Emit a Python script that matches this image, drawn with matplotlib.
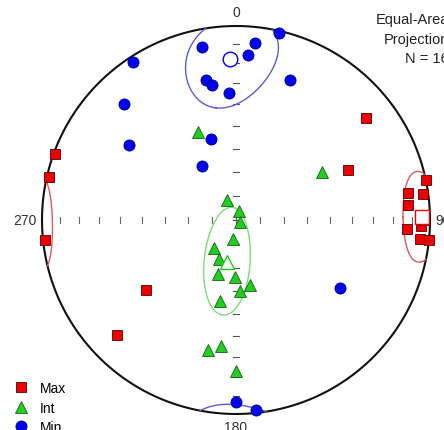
import numpy as np
import matplotlib
matplotlib.use('Agg')
import matplotlib.pyplot as plt
from matplotlib.lines import Line2D

plt.rcParams['font.family'] = ['Liberation Sans', 'DejaVu Sans']

# principal axes as trend / plunge in degrees (lower hemisphere)
max_trend = [290, 283, 264, 232, 226, 52, 66, 78, 81, 82, 85, 93, 92, 96, 96, 90]
max_plunge = [1, 1, 1, 41, 16, 16, 37, 0, 11, 3, 12, 13, 5, 5, 0, 4]

int_trend = [337, 61, 336, 17, 117, 189, 218, 204, 198, 181, 168, 177, 191, 192, 187, 180]
int_plunge = [49, 48, 81, 86, 88, 82, 75, 72, 66, 66, 62, 60, 55, 32, 35, 23]

min_trend = [327, 316, 305, 349, 348, 350, 343, 328, 13, 6, 4, 357, 21, 123, 180, 174]
min_plunge = [3, 18, 33, 10, 27, 30, 54, 63, 1, 9, 16, 35, 24, 36, 7, 2]

# mean axes and confidence cones: trend, plunge, semi-angle (dip dir), semi-angle (strike dir), rotation
mean_max = (89, 4.5, 10.5, 14, 0)
mean_int = (192, 72, 23, 9.5, 7)
mean_min = (358, 18, 24, 15, -15)

labels = ['Max', 'Int', 'Min']
n_points = 16


def project(trend, plunge):
    t = np.radians(np.asarray(trend, float))
    p = np.radians(np.asarray(plunge, float))
    r = np.sqrt(1 - np.sin(p))
    return r * np.sin(t), r * np.cos(t)


def cone(trend, plunge, a, b, rot, n=721):
    t, p = np.radians(trend), np.radians(plunge)
    m = np.array([np.cos(p) * np.sin(t), np.cos(p) * np.cos(t), np.sin(p)])
    e1 = np.array([-np.sin(p) * np.sin(t), -np.sin(p) * np.cos(t), np.cos(p)])
    e2 = np.array([np.cos(t), -np.sin(t), 0.0])
    w = np.radians(rot)
    u1 = np.cos(w) * e1 + np.sin(w) * e2
    u2 = -np.sin(w) * e1 + np.cos(w) * e2
    s = np.linspace(0, 2 * np.pi, n)
    v = (m[:, None] + np.tan(np.radians(a)) * np.cos(s) * u1[:, None]
         + np.tan(np.radians(b)) * np.sin(s) * u2[:, None])
    v /= np.linalg.norm(v, axis=0)
    up = v[2] < 0
    v[:, up] *= -1
    x = v[0] / np.sqrt(1 + v[2])
    y = v[1] / np.sqrt(1 + v[2])
    brk = np.where(np.diff(up))[0] + 1
    return np.insert(x, brk, np.nan), np.insert(y, brk, np.nan)


fig = plt.figure(figsize=(4.44, 4.31), dpi=100)
ax = fig.add_axes([0, 0, 1, 1])
R = 194.0
ax.set_xlim(-236 / R, 208 / R)
ax.set_ylim(-210 / R, 221 / R)
ax.set_aspect('equal')
ax.axis('off')

# primitive
th = np.linspace(0, 2 * np.pi, 400)
ax.plot(np.cos(th), np.sin(th), color='#111111', lw=1.5, zorder=2)

# tick marks every 10 degrees along the diameters
tick_p = np.arange(10, 91, 10)
tr = np.sqrt(1 - np.sin(np.radians(tick_p)))
h = 3 / R
for r in tr:
    for sgn in (1, -1):
        ax.plot([sgn * r, sgn * r], [-h, h], color='#666666', lw=0.8, zorder=1)
        ax.plot([-h, h], [sgn * r, sgn * r], color='#555555', lw=0.8, zorder=1)

ax.text(0, 1.035, '0', ha='center', va='bottom', fontsize=10, color='#333333')
ax.text(0, -1.03, '180', ha='center', va='top', fontsize=10, color='#333333')
ax.text(-1.03, 0, '270', ha='right', va='center', fontsize=10, color='#333333')
ax.text(1.03, 0, '90', ha='left', va='center', fontsize=10, color='#333333')

ax.text(213 / R, 208 / R, f'Equal-Area\nProjection\nN = {n_points}', ha='right', va='top',
        fontsize=10.5, color='#222222', linespacing=1.5)

styles = [
    (max_trend, max_plunge, mean_max, 's', '#ee0000', '#550000', '#e05a5a', 7),
    (int_trend, int_plunge, mean_int, '^', '#22cc22', '#116611', '#77dd77', 8),
    (min_trend, min_plunge, mean_min, 'o', '#0000ee', '#000088', '#5c5cd8', 8),
]

handles = []
for (tr_, pl_, mean, mk, fc, ec, cc, ms), lab in zip(styles, labels):
    cx, cy = cone(*mean)
    ax.plot(cx, cy, color=cc, lw=1.0, zorder=3)
    x, y = project(tr_, pl_)
    ax.plot(x, y, ls='none', marker=mk, ms=ms, mfc=fc, mec=ec, mew=0.6, zorder=4)
    mx, my = project(mean[0], mean[1])
    ax.plot(mx, my, ls='none', marker=mk, ms=ms + 2.5, mfc='white', mec=fc, mew=1.0, zorder=5)
    handles.append(Line2D([], [], ls='none', marker=mk, ms=ms, mfc=fc, mec=ec, mew=0.6, label=lab))

fig.legend(handles=handles, loc='upper left', bbox_to_anchor=(14 / 444, 1 - 382 / 431),
           frameon=False, fontsize=10, handlelength=1.0, handletextpad=0.85,
           labelspacing=0.4, borderpad=0, borderaxespad=0)

fig.savefig('out.png', dpi=100)
